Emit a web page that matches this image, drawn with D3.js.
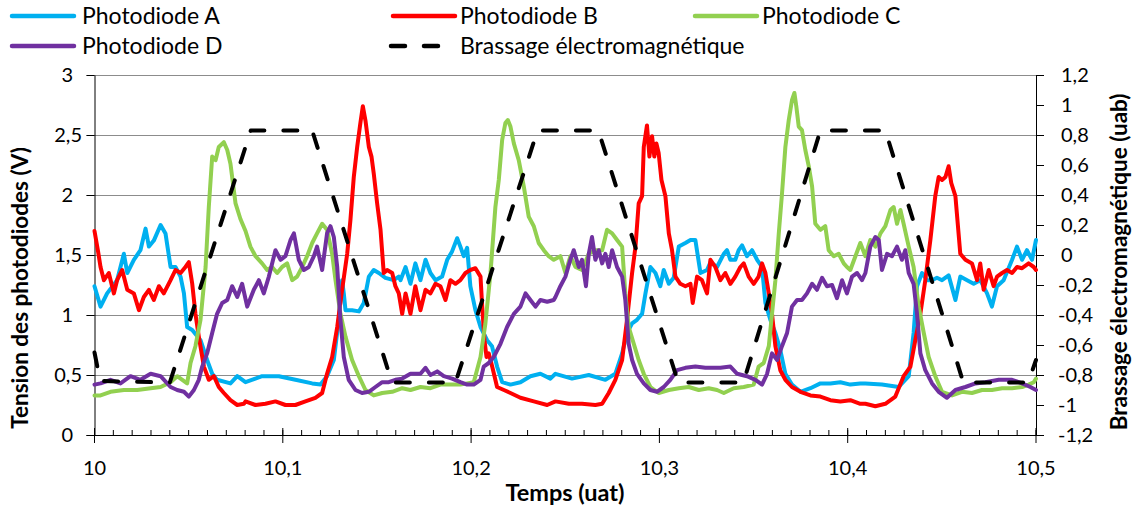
<!DOCTYPE html>
<html><head><meta charset="utf-8">
<script src="https://cdn.jsdelivr.net/npm/d3@7"></script>
<style>
body{margin:0;background:#fff}
svg{display:block}
text{font-family:Lato,"Open Sans",sans-serif;fill:#000}
</style>
</head><body>
<svg id="chart" width="1133" height="506"></svg>
<script>
// ---------- data ----------
const xTicks = [10, 10.1, 10.2, 10.3, 10.4, 10.5];
const yLeftTicks = [0, 0.5, 1, 1.5, 2, 2.5, 3];
const yRightTicks = [-1.2, -1, -0.8, -0.6, -0.4, -0.2, 0, 0.2, 0.4, 0.6, 0.8, 1, 1.2];
const seriesNames = ["Photodiode A", "Photodiode B", "Photodiode C", "Photodiode D", "Brassage électromagnétique"];
const seriesColors = ["#00B0F0", "#FF0000", "#92D050", "#7030A0", "#000000"];

const tA = [10.0000,10.0032,10.0067,10.0120,10.0156,10.0174,10.0209,10.0244,10.0271,10.0289,10.0315,10.0351,10.0377,10.0404,10.0430,10.0457,10.0475,10.0492,10.0519,10.0563,10.0598,10.0625,10.0651,10.0722,10.0758,
10.0802,10.0890,10.0979,10.1067,10.1156,10.1200,10.1235,10.1271,10.1297,10.1315,10.1324,10.1333,10.1368,10.1404,10.1430,10.1457,10.1483,10.1510,10.1545,10.1589,10.1616,
10.1625,10.1652,10.1678,10.1704,10.1731,10.1758,10.1784,10.1811,10.1846,10.1873,10.1899,10.1926,10.1943,10.1961,10.1979,10.1996,10.2023,10.2050,10.2085,10.2111,10.2138,10.2165,10.2209,10.2262,10.2315,10.2368,10.2421,
10.2448,10.2536,10.2625,10.2713,10.2766,10.2802,10.2828,10.2855,10.2881,10.2908,10.2926,10.2952,10.2979,10.3005,10.3023,10.3050,10.3076,10.3103,10.3138,10.3165,10.3191,10.3218,10.3253,
10.3271,10.3306,10.3342,10.3359,10.3377,10.3403,10.3421,10.3439,10.3465,10.3492,10.3519,10.3545,10.3563,10.3589,10.3616,10.3642,10.3669,10.3704,10.3749,10.3802,10.3855,10.3908,10.3961,10.4014,10.4067,
10.4094,10.4182,10.4271,10.4324,10.4350,10.4368,10.4395,10.4421,10.4448,10.4474,10.4501,10.4536,10.4572,10.4598,10.4634,10.4669,10.4704,10.4740,10.4766,10.4793,10.4828,10.4873,10.4899,10.4926,10.4952,10.4979,10.5000];
const vA = [1.24,1.07,1.18,1.29,1.51,1.35,1.46,1.54,1.72,1.57,1.62,1.75,1.68,1.40,1.40,1.32,1.18,0.90,0.875,0.79,0.625,0.51,0.46,0.43,0.49,
0.44,0.49,0.49,0.46,0.43,0.42,0.49,0.625,0.96,1.29,1.18,1.04,1.04,1.03,1.10,1.32,1.375,1.35,1.31,1.29,1.32,
1.29,1.40,1.26,1.43,1.29,1.46,1.35,1.29,1.32,1.46,1.53,1.64,1.57,1.49,1.56,1.24,1.04,0.90,0.79,0.74,0.57,0.44,0.42,0.44,0.49,0.51,0.47,
0.51,0.47,0.50,0.46,0.51,0.68,0.85,0.93,0.96,1.01,1.18,1.40,1.35,1.24,1.375,1.26,1.31,1.57,1.60,1.625,1.625,1.35,1.375,
1.44,1.40,1.51,1.54,1.46,1.46,1.54,1.58,1.49,1.54,1.46,1.40,1.10,0.96,0.85,0.71,0.51,0.42,0.36,0.39,0.43,0.43,0.44,0.42,0.43,
0.43,0.42,0.40,0.49,0.85,1.24,1.35,1.29,1.29,1.31,1.29,1.33,1.125,1.32,1.29,1.26,1.29,1.18,1.07,1.24,1.29,1.46,1.57,1.46,1.54,1.46,1.625];

const tB = [10.0000,10.0020,10.0032,10.0050,10.0076,10.0103,10.0120,10.0147,10.0174,10.0209,10.0236,10.0262,10.0289,10.0315,10.0342,10.0368,10.0404,10.0430,10.0457,10.0483,10.0501,10.0519,10.0536,10.0554,10.0581,10.0607,10.0634,10.0660,10.0687,10.0722,10.0758,10.0793,
10.0802,10.0855,10.0908,10.0961,10.1014,10.1067,10.1120,10.1173,10.1209,10.1235,10.1262,10.1289,10.1315,10.1342,10.1359,10.1377,10.1395,10.1412,10.1425,10.1439,10.1457,10.1471,10.1483,10.1501,10.1519,10.1536,10.1554,10.1581,10.1598,10.1616,10.1634,
10.1652,10.1678,10.1704,10.1731,10.1758,10.1784,10.1811,10.1837,10.1864,10.1890,10.1917,10.1943,10.1970,10.1996,10.2023,10.2050,10.2059,10.2071,10.2082,10.2094,10.2112,10.2138,10.2174,10.2209,10.2262,10.2333,10.2404,
10.2448,10.2519,10.2589,10.2660,10.2696,10.2731,10.2766,10.2802,10.2828,10.2855,10.2873,10.2890,10.2908,10.2917,10.2934,10.2947,10.2961,10.2973,10.2984,10.2996,10.3011,10.3032,10.3050,10.3067,10.3085,10.3111,10.3138,10.3165,10.3177,10.3200,10.3226,10.3253,
10.3271,10.3297,10.3324,10.3350,10.3377,10.3403,10.3430,10.3448,10.3474,10.3501,10.3527,10.3545,10.3563,10.3581,10.3598,10.3616,10.3642,10.3669,10.3704,10.3749,10.3802,10.3855,10.3908,10.3961,10.4014,10.4067,
10.4094,10.4147,10.4200,10.4253,10.4297,10.4333,10.4359,10.4386,10.4412,10.4439,10.4465,10.4483,10.4501,10.4519,10.4536,10.4550,10.4572,10.4598,10.4625,10.4660,10.4687,10.4704,10.4722,10.4749,10.4775,10.4793,10.4820,10.4846,10.4873,10.4899,10.4926,10.4961,10.4988,10.5000];
const vB = [1.70,1.52,1.40,1.29,1.35,1.18,1.29,1.375,1.21,1.18,1.04,1.15,1.21,1.125,1.24,1.18,1.29,1.375,1.35,1.40,1.44,1.26,1.01,0.82,0.57,0.46,0.49,0.40,0.35,0.29,0.25,0.26,
0.28,0.25,0.26,0.28,0.25,0.25,0.28,0.31,0.35,0.51,0.65,0.90,1.21,1.51,1.79,2.15,2.40,2.60,2.74,2.62,2.40,2.32,2.18,1.93,1.71,1.35,1.375,1.35,1.24,1.18,1.01,
1.18,1.01,1.24,1.04,1.21,1.18,1.26,1.24,1.125,1.29,1.26,1.29,1.35,1.375,1.39,1.32,1.07,0.79,0.65,0.68,0.57,0.40,0.375,0.35,0.31,0.28,0.25,
0.28,0.26,0.26,0.25,0.26,0.35,0.46,0.625,0.96,1.35,1.57,1.93,1.99,2.40,2.58,2.32,2.49,2.32,2.43,2.35,2.125,1.99,1.68,1.54,1.32,1.26,1.24,1.26,1.10,1.32,1.29,1.18,
1.46,1.40,1.29,1.35,1.26,1.32,1.40,1.43,1.32,1.26,1.32,1.43,1.35,1.18,1.01,0.74,0.54,0.46,0.40,0.36,0.33,0.32,0.29,0.28,0.29,0.26,
0.26,0.24,0.26,0.32,0.49,0.57,0.79,1.01,1.29,1.625,1.99,2.15,2.125,2.15,2.24,2.10,1.99,1.51,1.46,1.43,1.29,1.43,1.21,1.375,1.24,1.32,1.35,1.375,1.35,1.40,1.39,1.43,1.40,1.375];

const tC = [10.0000,10.0032,10.0085,10.0156,10.0227,10.0298,10.0351,10.0404,10.0439,10.0492,10.0510,10.0536,10.0563,10.0590,10.0607,10.0625,10.0643,10.0660,10.0687,10.0705,10.0722,10.0749,10.0775,10.0802,
10.0828,10.0855,10.0890,10.0917,10.0943,10.0970,10.0996,10.1023,10.1050,10.1076,10.1103,10.1129,10.1156,10.1182,10.1209,10.1235,10.1262,10.1280,10.1306,10.1333,10.1368,10.1404,10.1439,10.1483,10.1528,10.1581,10.1634,
10.1678,10.1731,10.1784,10.1837,10.1890,10.1943,10.1979,10.2014,10.2050,10.2076,10.2103,10.2129,10.2147,10.2165,10.2182,10.2195,10.2209,10.2227,10.2253,10.2280,10.2306,10.2333,10.2359,10.2386,10.2412,10.2439,
10.2474,10.2501,10.2527,10.2554,10.2589,10.2625,10.2660,10.2696,10.2722,10.2749,10.2775,10.2802,10.2819,10.2837,10.2864,10.2890,10.2917,10.2952,10.2996,10.3050,10.3103,10.3156,10.3209,10.3262,
10.3306,10.3342,10.3395,10.3448,10.3501,10.3527,10.3554,10.3581,10.3598,10.3616,10.3634,10.3651,10.3669,10.3687,10.3704,10.3717,10.3727,10.3740,10.3757,10.3775,10.3793,10.3811,10.3828,10.3855,10.3881,10.3899,10.3926,10.3952,10.3979,10.3996,10.4014,10.4041,10.4067,10.4094,
10.4120,10.4147,10.4174,10.4200,10.4227,10.4244,10.4262,10.4280,10.4297,10.4324,10.4350,10.4377,10.4404,10.4430,10.4465,10.4501,10.4554,10.4607,10.4660,10.4713,10.4766,10.4820,10.4873,10.4926,10.4961,10.4988,10.5000];
const vC = [0.33,0.33,0.36,0.375,0.375,0.39,0.40,0.44,0.49,0.43,0.60,0.74,0.96,1.40,1.90,2.32,2.29,2.40,2.44,2.375,2.26,1.93,1.80,1.70,
1.57,1.49,1.43,1.375,1.40,1.35,1.40,1.43,1.29,1.32,1.40,1.49,1.60,1.68,1.76,1.71,1.51,1.29,1.01,0.82,0.625,0.49,0.375,0.33,0.35,0.36,0.39,
0.375,0.40,0.39,0.42,0.42,0.42,0.43,0.44,0.65,0.93,1.35,1.90,2.125,2.46,2.60,2.625,2.57,2.43,2.29,2.07,1.82,1.74,1.60,1.54,1.49,1.46,
1.49,1.35,1.49,1.40,1.375,1.51,1.54,1.54,1.71,1.68,1.625,1.57,1.18,0.90,0.76,0.625,0.51,0.40,0.35,0.375,0.39,0.40,0.375,0.39,
0.375,0.35,0.39,0.40,0.42,0.57,0.60,0.74,1.01,1.29,1.68,2.01,2.40,2.625,2.79,2.85,2.74,2.57,2.54,2.375,2.24,2.07,1.76,1.71,1.74,1.54,1.49,1.51,1.43,1.40,1.375,1.49,1.60,1.49,
1.625,1.57,1.68,1.74,1.875,1.90,1.76,1.875,1.76,1.57,1.40,1.07,0.85,0.65,0.49,0.36,0.33,0.36,0.35,0.375,0.375,0.39,0.39,0.40,0.42,0.44,0.47];

const tD = [10.0000,10.0032,10.0085,10.0138,10.0191,10.0244,10.0298,10.0351,10.0404,10.0439,10.0475,10.0501,10.0528,10.0554,10.0572,10.0598,10.0625,10.0651,10.0678,10.0705,10.0731,10.0758,10.0784,10.0811,
10.0846,10.0873,10.0899,10.0926,10.0961,10.0988,10.1014,10.1041,10.1059,10.1085,10.1112,10.1138,10.1165,10.1182,10.1209,10.1235,10.1253,10.1271,10.1289,10.1306,10.1324,10.1350,10.1386,10.1421,10.1457,10.1492,10.1528,10.1563,10.1598,10.1634,
10.1678,10.1731,10.1758,10.1784,10.1820,10.1855,10.1899,10.1943,10.1979,10.2014,10.2050,10.2067,10.2094,10.2120,10.2156,10.2191,10.2227,10.2262,10.2289,10.2315,10.2342,10.2368,10.2404,10.2439,
10.2448,10.2474,10.2501,10.2527,10.2545,10.2572,10.2589,10.2610,10.2625,10.2642,10.2660,10.2678,10.2696,10.2713,10.2731,10.2749,10.2775,10.2802,10.2819,10.2837,10.2855,10.2881,10.2917,10.2952,10.2987,10.3023,10.3058,10.3094,10.3138,10.3191,10.3244,
10.3271,10.3324,10.3377,10.3413,10.3465,10.3510,10.3545,10.3572,10.3598,10.3625,10.3651,10.3678,10.3704,10.3731,10.3757,10.3784,10.3811,10.3837,10.3864,10.3890,10.3917,10.3943,10.3970,10.3996,10.4023,10.4050,10.4076,
10.4094,10.4120,10.4147,10.4165,10.4182,10.4209,10.4235,10.4262,10.4288,10.4306,10.4324,10.4350,10.4368,10.4386,10.4412,10.4448,10.4483,10.4527,10.4572,10.4625,10.4678,10.4731,10.4802,10.4873,10.4926,10.4970,10.5000];
const vD = [0.42,0.43,0.46,0.43,0.49,0.46,0.51,0.49,0.40,0.375,0.36,0.32,0.375,0.46,0.57,0.68,0.85,1.01,1.10,1.125,1.24,1.15,1.26,1.07,
1.21,1.29,1.18,1.32,1.54,1.46,1.49,1.625,1.68,1.46,1.375,1.40,1.49,1.57,1.375,1.68,1.74,1.65,1.40,0.96,0.65,0.46,0.375,0.35,0.36,0.40,0.44,0.44,0.46,0.47,
0.51,0.51,0.56,0.50,0.53,0.49,0.47,0.44,0.42,0.42,0.46,0.57,0.60,0.65,0.76,0.90,1.01,1.07,1.18,1.125,1.07,1.125,1.11,1.125,
1.15,1.24,1.32,1.46,1.54,1.40,1.46,1.24,1.51,1.65,1.46,1.54,1.43,1.51,1.40,1.54,1.40,1.32,1.125,0.76,0.625,0.51,0.43,0.375,0.36,0.40,0.46,0.54,0.56,0.57,0.56,
0.56,0.56,0.57,0.51,0.49,0.46,0.42,0.51,0.68,0.625,0.74,0.85,1.07,1.125,1.125,1.18,1.26,1.21,1.31,1.24,1.25,1.14,1.29,1.18,1.32,1.35,1.29,
1.35,1.57,1.65,1.625,1.375,1.51,1.49,1.57,1.46,1.54,1.35,1.26,1.01,0.68,0.54,0.43,0.36,0.31,0.375,0.40,0.43,0.44,0.46,0.46,0.43,0.40,0.375];

const tBrassage = [10.0000,10.0030,10.0400,10.0830,10.1156,10.1580,10.1917,10.2353,10.2676,10.3100,10.3446,10.3855,10.4200,10.4614,10.4959,10.5000];
const vBrassage = [-0.65,-0.84,-0.85,0.83,0.83,-0.85,-0.85,0.83,0.83,-0.85,-0.85,0.83,0.83,-0.85,-0.85,-0.70];

// ---------- chart ----------
const svg = d3.select("#chart");
const W = 1133, H = 506;
const mLeft = 94.5, mRight = 1036, mTop = 75, mBottom = 435;

const x = d3.scaleLinear().domain([10, 10.5]).range([mLeft, mRight]);
const yL = d3.scaleLinear().domain([0, 3]).range([mBottom, mTop]);
const yR = d3.scaleLinear().domain([-1.2, 1.2]).range([mBottom, mTop]);
const fmt = d => String(Math.round(d * 10) / 10).replace(".", ",");

svg.append("rect").attr("width", W).attr("height", H).attr("fill", "#fff");

// gridlines
svg.append("g").selectAll("line").data(yLeftTicks.filter(d => d > 0)).join("line")
  .attr("x1", mLeft - 8).attr("x2", mRight)
  .attr("y1", d => Math.round(yL(d)) + 0.5).attr("y2", d => Math.round(yL(d)) + 0.5)
  .attr("stroke", "#8c8c8c").attr("stroke-width", 1);

// left axis
const gL = svg.append("g").attr("transform", `translate(${mLeft},0)`)
  .call(d3.axisLeft(yL).tickValues(yLeftTicks).tickSize(8).tickSizeOuter(0).tickFormat(""));
gL.select(".domain").attr("stroke", "#000");
gL.selectAll(".tick line").attr("stroke", "#000");
svg.append("g").selectAll("text").data(yLeftTicks).join("text")
  .attr("x", d => Number.isInteger(d) ? 73 : 82)
  .attr("y", d => yL(d)).attr("dy", "0.36em")
  .attr("text-anchor", "end").attr("font-size", 20).text(fmt);

// right axis
const gR = svg.append("g").attr("transform", `translate(${mRight},0)`)
  .call(d3.axisRight(yR).tickValues(yRightTicks).tickSize(8).tickSizeOuter(0).tickFormat(""));
gR.select(".domain").attr("stroke", "#000");
gR.selectAll(".tick line").attr("stroke", "#000");
svg.append("g").selectAll("text").data(yRightTicks).join("text")
  .attr("x", d => d < 0 ? 1058 : 1061)
  .attr("y", d => yR(d)).attr("dy", "0.36em")
  .attr("text-anchor", "start").attr("font-size", 20).text(fmt);

// bottom axis: minor ticks (inside) and major ticks (crossing)
const minorTicks = d3.range(0, 51).map(i => 10 + i * 0.01);
svg.append("g").selectAll("line").data(minorTicks).join("line")
  .attr("x1", d => x(d)).attr("x2", d => x(d))
  .attr("y1", mBottom - 5).attr("y2", mBottom)
  .attr("stroke", "#000").attr("stroke-width", 1);
svg.append("g").selectAll("line").data(xTicks).join("line")
  .attr("x1", d => x(d)).attr("x2", d => x(d))
  .attr("y1", mBottom - 7).attr("y2", mBottom + 8)
  .attr("stroke", "#000").attr("stroke-width", 1);
svg.append("line").attr("x1", mLeft - 8).attr("x2", mRight)
  .attr("y1", mBottom + 0.5).attr("y2", mBottom + 0.5).attr("stroke", "#000");
svg.append("g").selectAll("text").data(xTicks).join("text")
  .attr("x", d => x(d)).attr("y", 475)
  .attr("text-anchor", "middle").attr("font-size", 20).text(fmt);

// axis titles
svg.append("text").attr("transform", "translate(28,288) rotate(-90)")
  .attr("text-anchor", "middle").attr("font-size", 22.5).attr("font-weight", "bold")
  .text("Tension des photodiodes (V)");
svg.append("text").attr("transform", "translate(1127,262) rotate(-90)")
  .attr("text-anchor", "middle").attr("font-size", 22.5).attr("font-weight", "bold")
  .text("Brassage électromagnétique (uab)");
svg.append("text").attr("x", 565).attr("y", 501)
  .attr("text-anchor", "middle").attr("font-size", 23.5).attr("font-weight", "bold")
  .text("Temps (uat)");

// series
const seriesData = [
  {t: tA, v: vA, y: yL},
  {t: tB, v: vB, y: yL},
  {t: tC, v: vC, y: yL},
  {t: tD, v: vD, y: yL},
  {t: tBrassage, v: vBrassage, y: yR, dash: true}
];
const plot = svg.append("g");
seriesData.forEach((s, i) => {
  const n = Math.min(s.t.length, s.v.length);
  const pts = d3.range(n).map(k => [s.t[k], s.v[k]]);
  const line = d3.line().x(p => x(p[0])).y(p => s.y(p[1]));
  const p = plot.append("path").datum(pts).attr("d", line)
    .attr("fill", "none").attr("stroke", seriesColors[i])
    .attr("stroke-width", 4).attr("stroke-linejoin", "round").attr("stroke-linecap", "round");
  if (s.dash) p.attr("stroke-dasharray", "14,19");
});

// legend
const legendPos = [
  {lx: 12, tx: 82, y: 16}, {lx: 393, tx: 460, y: 16}, {lx: 695, tx: 762, y: 16},
  {lx: 12, tx: 82, y: 46}, {lx: 391, tx: 460, y: 46}
];
const lg = svg.append("g");
seriesNames.forEach((name, i) => {
  const p = legendPos[i];
  const l = lg.append("line").attr("x1", p.lx).attr("x2", i === 4 ? 453 : p.lx + 62)
    .attr("y1", p.y).attr("y2", p.y).attr("stroke", seriesColors[i])
    .attr("stroke-width", 4.5).attr("stroke-linecap", "round");
  if (i === 4) l.attr("stroke-dasharray", "14,19");
  lg.append("text").attr("x", p.tx).attr("y", p.y).attr("dy", "0.36em")
    .attr("font-size", 23).text(name);
});
</script>
</body></html>
